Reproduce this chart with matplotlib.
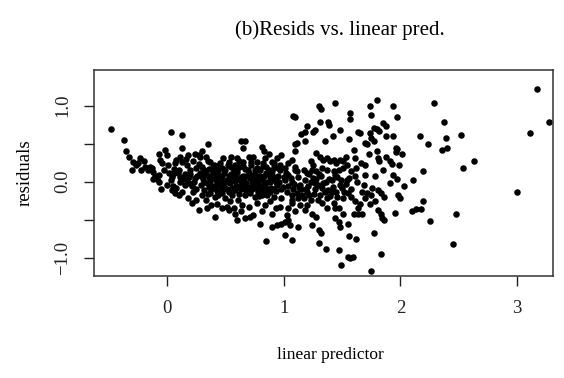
import numpy as np
import matplotlib.pyplot as plt

plt.rcParams['font.family'] = ['Liberation Serif', 'DejaVu Serif']

# residuals vs. linear predictor, grouped by stretch of the x range
left_pts = [(-0.48, 0.70), (-0.37, 0.55), (-0.35, 0.41), (-0.33, 0.33), (-0.29, 0.26),
            (-0.27, 0.22), (-0.23, 0.31), (-0.25, 0.24), (-0.22, 0.15), (-0.30, 0.15),
            (-0.19, 0.20), (-0.15, 0.20), (-0.12, 0.13), (-0.07, 0.37), (-0.06, 0.29),
            (-0.02, 0.42), (0.00, 0.35), (0.03, 0.66), (0.13, 0.62), (0.13, 0.44),
            (0.11, 0.33), (0.18, 0.35), (0.24, 0.37), (0.28, 0.33), (0.13, 0.26),
            (0.17, 0.22), (0.20, 0.15), (0.25, 0.18), (0.01, 0.22), (-0.03, 0.15),
            (-0.07, 0.09), (-0.12, 0.04), (0.04, 0.06), (0.11, 0.06), (-0.10, 0.07),
            (-0.07, 0.00), (-0.05, -0.09), (0.00, -0.04), (0.04, -0.11), (0.07, -0.15),
            (0.10, -0.18), (0.13, -0.13), (0.15, -0.04), (0.18, -0.22), (0.21, -0.28),
            (0.25, -0.24), (0.17, 0.02), (0.23, 0.00), (0.25, -0.09), (0.11, 0.00),
            (0.03, 0.02), (0.02, 0.12), (0.06, 0.17), (0.08, 0.29), (0.15, 0.10),
            (0.19, 0.06), (0.22, 0.27), (0.26, 0.08), (0.07, 0.24), (0.21, -0.06),
            (0.16, 0.30), (-0.04, 0.25), (0.05, -0.05), (0.09, 0.12), (0.27, 0.23),
            (-0.16, 0.15), (-0.13, 0.18), (-0.09, 0.04), (-0.20, 0.27), (0.05, 0.10),
            (0.10, 0.15), (0.14, 0.03), (0.20, 0.10), (0.24, 0.05), (0.19, -0.02),
            (0.08, -0.08), (0.22, -0.14)]

core_pts = [(0.30, 0.20), (0.36, 0.17), (0.42, 0.21), (0.47, 0.18), (0.52, 0.22),
            (0.57, 0.16), (0.62, 0.20), (0.67, 0.17), (0.72, 0.22), (0.77, 0.18),
            (0.82, 0.21), (0.87, 0.16), (0.92, 0.19), (0.97, 0.15), (1.02, 0.12),
            (0.28, 0.12), (0.33, 0.10), (0.39, 0.13), (0.44, 0.09), (0.49, 0.12),
            (0.55, 0.10), (0.60, 0.13), (0.65, 0.08), (0.70, 0.11), (0.75, 0.12),
            (0.80, 0.08), (0.85, 0.11), (0.90, 0.09), (0.95, 0.07), (1.00, 0.06),
            (1.04, 0.09), (0.31, 0.04), (0.36, 0.06), (0.41, 0.03), (0.46, 0.05),
            (0.51, 0.02), (0.56, 0.06), (0.61, 0.03), (0.66, 0.01), (0.71, 0.05),
            (0.76, 0.02), (0.81, 0.04), (0.86, 0.00), (0.91, 0.03), (0.96, -0.01),
            (1.01, 0.02), (0.29, -0.04), (0.34, -0.02), (0.39, -0.05), (0.44, -0.03),
            (0.49, -0.06), (0.54, -0.02), (0.59, -0.05), (0.64, -0.04), (0.69, -0.07),
            (0.74, -0.03), (0.79, -0.06), (0.84, -0.05), (0.89, -0.08), (0.94, -0.04),
            (0.99, -0.07), (1.04, -0.05), (0.32, -0.11), (0.38, -0.09), (0.43, -0.12),
            (0.48, -0.10), (0.53, -0.13), (0.58, -0.11), (0.63, -0.09), (0.68, -0.12),
            (0.73, -0.10), (0.78, -0.13), (0.83, -0.11), (0.88, -0.14), (0.93, -0.12),
            (0.98, -0.10), (1.03, -0.13), (0.35, 0.27), (0.45, 0.25), (0.62, 0.27),
            (0.72, 0.26), (0.82, 0.24), (0.92, 0.25), (0.32, 0.15), (0.39, 0.19),
            (0.44, 0.15), (0.50, 0.16), (0.55, 0.19), (0.60, 0.17), (0.65, 0.21),
            (0.69, 0.15), (0.75, 0.16), (0.80, 0.15), (0.85, 0.19), (0.90, 0.14),
            (0.95, 0.18), (0.30, 0.08), (0.37, 0.08), (0.42, 0.07), (0.47, 0.08),
            (0.53, 0.07), (0.58, 0.09), (0.63, 0.06), (0.68, 0.08), (0.73, 0.08),
            (0.78, 0.06), (0.83, 0.08), (0.88, 0.06), (0.93, 0.05), (0.32, 0.00),
            (0.37, 0.01), (0.43, -0.01), (0.48, 0.00), (0.53, -0.01), (0.58, 0.01),
            (0.63, -0.01), (0.68, -0.02), (0.73, 0.00), (0.78, -0.01), (0.83, -0.02),
            (0.88, -0.01), (0.93, 0.00), (0.36, -0.07), (0.41, -0.08), (0.46, -0.07),
            (0.51, -0.09), (0.56, -0.08), (0.61, -0.07), (0.66, -0.08), (0.71, -0.09),
            (0.76, -0.08), (0.81, -0.09), (0.86, -0.10), (0.91, -0.09), (0.35, -0.16),
            (0.41, -0.20), (0.47, -0.15), (0.56, -0.18), (0.62, -0.16), (0.71, -0.15),
            (0.79, -0.19), (0.86, -0.17), (0.92, -0.20)]

upper_pts = [(0.35, 0.50), (0.63, 0.54), (0.67, 0.54), (0.65, 0.45), (1.08, 0.86),
             (1.10, 0.50), (0.30, 0.40), (0.27, 0.35), (0.33, 0.33), (0.37, 0.26),
             (0.40, 0.22), (0.48, 0.31), (0.53, 0.26), (0.55, 0.33), (0.60, 0.31),
             (0.58, 0.22), (0.65, 0.26), (0.70, 0.33), (0.74, 0.33), (0.77, 0.26),
             (0.81, 0.46), (0.83, 0.40), (0.84, 0.31), (0.87, 0.37), (0.90, 0.26),
             (0.94, 0.31), (0.98, 0.35), (0.97, 0.22), (1.01, 0.18), (1.04, 0.24),
             (1.07, 0.29), (1.10, 0.15)]

lower_pts = [(0.33, -0.24), (0.27, -0.37), (0.34, -0.35), (0.41, -0.46), (0.38, -0.31),
             (0.43, -0.29), (0.47, -0.35), (0.51, -0.33), (0.53, -0.37), (0.57, -0.35),
             (0.58, -0.42), (0.60, -0.50), (0.63, -0.39), (0.67, -0.48), (0.71, -0.46),
             (0.74, -0.44), (0.80, -0.55), (0.81, -0.39), (0.90, -0.42), (0.94, -0.57),
             (0.90, -0.59), (0.98, -0.55), (1.01, -0.53), (1.04, -0.50), (1.01, -0.70),
             (1.03, -0.44), (1.07, -0.77), (0.85, -0.78), (1.05, -0.57), (0.30, -0.17),
             (0.37, -0.15), (0.44, -0.17), (0.50, -0.22), (0.54, -0.26), (0.61, -0.24),
             (0.64, -0.31), (0.70, -0.33), (0.77, -0.28), (0.84, -0.31), (0.88, -0.26),
             (0.93, -0.35), (0.97, -0.33), (1.04, -0.35), (1.07, -0.28), (0.98, -0.22),
             (1.07, -0.17), (0.81, -0.17), (0.75, -0.20), (0.67, -0.17)]

mid_pts = [(1.10, 0.85), (1.30, 0.99), (1.32, 0.96), (1.44, 1.03), (1.57, 0.90),
           (1.57, 0.82), (1.74, 1.00), (1.80, 1.07), (1.75, 0.88), (1.38, 0.79),
           (1.39, 0.75), (1.31, 0.79), (1.20, 0.73), (1.18, 0.66), (1.15, 0.63),
           (1.27, 0.68), (1.25, 0.65), (1.11, 0.51), (1.10, 0.40), (1.18, 0.53),
           (1.35, 0.53), (1.48, 0.68), (1.42, 0.60), (1.56, 0.56), (1.64, 0.66),
           (1.65, 0.64), (1.74, 0.64), (1.77, 0.71), (1.80, 0.69), (1.82, 0.67),
           (1.85, 0.77), (1.88, 0.73), (1.88, 0.60), (1.70, 0.51), (1.71, 0.49),
           (1.75, 0.57), (1.77, 0.53), (1.73, 0.36), (1.80, 0.40), (1.81, 0.31),
           (1.82, 0.27), (1.88, 0.33), (1.91, 0.27), (1.70, 0.22), (1.61, 0.31),
           (1.60, 0.42), (1.28, 0.38), (1.31, 0.33), (1.34, 0.29), (1.37, 0.31),
           (1.40, 0.27), (1.43, 0.29), (1.45, 0.25), (1.48, 0.29), (1.51, 0.27),
           (1.53, 0.33), (1.54, 0.22), (1.51, 0.18), (1.47, 0.16), (1.43, 0.14),
           (1.37, 0.16), (1.33, 0.18), (1.28, 0.14), (1.25, 0.22), (1.23, 0.27),
           (1.24, 0.16), (1.20, 0.11), (1.17, 0.16), (1.10, 0.20), (1.11, 0.14),
           (1.58, 0.14), (1.61, 0.07), (1.70, 0.09), (1.78, 0.07), (1.85, 0.16),
           (1.08, -0.09), (1.11, -0.15), (1.14, -0.04), (1.17, -0.22), (1.20, -0.13),
           (1.23, 0.00), (1.23, -0.24), (1.27, -0.09), (1.28, 0.04), (1.31, -0.18),
           (1.34, -0.02), (1.37, -0.22), (1.38, -0.11), (1.41, 0.02), (1.43, -0.28),
           (1.45, -0.13), (1.47, -0.35), (1.48, -0.04), (1.51, -0.22), (1.54, 0.02),
           (1.55, -0.15), (1.58, -0.09), (1.61, -0.26), (1.63, 0.00), (1.64, -0.35),
           (1.67, -0.13), (1.71, -0.15), (1.75, -0.18), (1.78, -0.26), (1.81, -0.11),
           (1.83, -0.15), (1.65, -0.29), (1.70, -0.22), (1.74, -0.29), (1.10, -0.39),
           (1.14, -0.31), (1.24, -0.42), (1.28, -0.46), (1.37, -0.35), (1.44, -0.35),
           (1.51, -0.42), (1.60, -0.42), (1.64, -0.42), (1.67, -0.42), (1.81, -0.37),
           (1.83, -0.42), (1.84, -0.48), (1.91, -0.02), (1.97, 0.04), (1.07, -0.24),
           (1.18, -0.37), (1.12, -0.59), (1.24, -0.57), (1.30, -0.64), (1.32, -0.68),
           (1.30, -0.81), (1.36, -0.88), (1.47, -0.90), (1.49, -1.09), (1.55, -0.99),
           (1.57, -1.01), (1.59, -0.99), (1.56, -0.72), (1.62, -0.75), (1.47, -0.53),
           (1.48, -0.59), (1.55, -0.55), (1.77, -0.67), (1.83, -0.95), (1.75, -1.17),
           (1.44, -0.48), (1.86, -0.50), (1.06, 0.05), (1.09, -0.03), (1.12, 0.06),
           (1.15, -0.10), (1.18, 0.02), (1.21, -0.06), (1.25, 0.05), (1.29, -0.04),
           (1.32, 0.07), (1.35, -0.14), (1.39, 0.04), (1.42, -0.07), (1.46, 0.06),
           (1.50, -0.08), (1.53, -0.03), (1.56, 0.05), (1.16, -0.18), (1.26, -0.16),
           (1.40, -0.19), (1.22, 0.10), (1.30, 0.10), (1.44, 0.09), (1.58, -0.20),
           (1.69, -0.04), (1.76, -0.08), (1.86, -0.20), (1.62, 0.18), (1.66, 0.25),
           (1.07, 0.00), (1.13, -0.07), (1.19, -0.09), (1.22, -0.18), (1.27, -0.02),
           (1.33, -0.08), (1.36, 0.00), (1.41, -0.13), (1.46, -0.20), (1.49, 0.02),
           (1.52, -0.13), (1.12, -0.22), (1.20, -0.30), (1.33, -0.28), (1.29, -0.24)]

right_pts = [(1.94, 1.00), (1.97, 0.85), (2.29, 1.04), (2.37, 0.78), (2.39, 0.58),
             (2.40, 0.45), (2.36, 0.42), (2.52, 0.62), (2.17, 0.60), (2.24, 0.50),
             (1.94, 0.60), (1.96, 0.44), (1.97, 0.43), (1.96, 0.39), (2.01, 0.36),
             (2.63, 0.27), (2.54, 0.18), (1.93, 0.23), (1.99, 0.22), (1.94, 0.09),
             (2.19, 0.14), (2.11, 0.02), (2.03, -0.06), (1.98, -0.18), (2.00, -0.21),
             (2.19, -0.26), (1.95, -0.41), (2.10, -0.39), (2.13, -0.36), (2.18, -0.36),
             (2.25, -0.52), (2.48, -0.42), (2.45, -0.82), (3.00, -0.14), (3.11, 0.64),
             (3.17, 1.22), (3.27, 0.79)]

x_ticks = [0, 1, 2, 3]
y_ticks = [-1.0, -0.5, 0.0, 0.5, 1.0]
y_tick_labels = ['\u22121.0', '', '0.0', '', '1.0']

pts = np.array(left_pts + core_pts + upper_pts + lower_pts + mid_pts + right_pts)

fig = plt.figure(figsize=(5.64, 3.78), dpi=100)
ax = fig.add_axes([0.1667, 0.2698, 0.8138, 0.545])
ax.scatter(pts[:, 0], pts[:, 1], s=22, color='black', linewidths=0, clip_on=False)

ax.set_xlim(-0.6255, 3.3076)
ax.set_ylim(-1.241, 1.470)
ax.set_xticks(x_ticks)
ax.set_xticklabels([str(t) for t in x_ticks])
ax.set_yticks(y_ticks)
ax.set_yticklabels(y_tick_labels, rotation=90, va='center')
ax.tick_params(direction='out', length=7.5, width=1.0, labelsize=13.5, colors='#222222')
ax.tick_params(axis='x', pad=10)
ax.tick_params(axis='y', pad=9)
for sp in ax.spines.values():
    sp.set_linewidth(1.1)
    sp.set_color('#333333')

ax.set_xlabel('linear predictor', fontsize=12.5, va='center')
ax.xaxis.set_label_coords(0.514, -0.385)
ax.set_ylabel('residuals', fontsize=13.5, va='center')
ax.yaxis.set_label_coords(-0.15, 0.5)

fig.text(0.603, 0.921, '(b)Resids vs. linear pred.', fontsize=15,
         ha='center', va='center')

fig.savefig('out.png', dpi=100)
